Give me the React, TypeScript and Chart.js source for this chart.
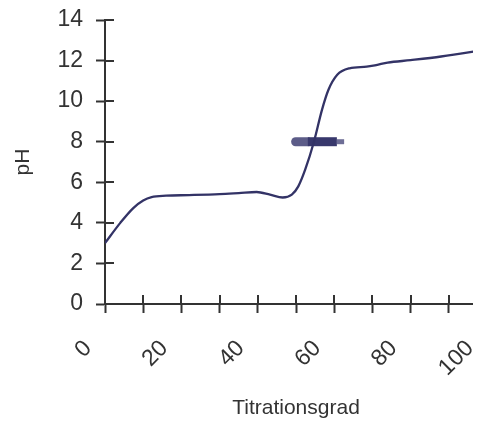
import React, { useEffect, useRef } from "react";
import { Chart, registerables } from "chart.js";

Chart.register(...registerables);

// Titration curve: degree of titration (%) vs pH
const titrationX = [0, 4, 7.4, 10, 12.2, 16, 22, 30, 35, 39.7, 43.2, 46.5, 48.9, 50.6, 52.4, 54.7, 56.8, 58.5, 60.8, 64, 68.5, 71, 74, 80, 88, 100];
const titrationPH = [3.0, 4.0, 4.73, 5.1, 5.27, 5.34, 5.37, 5.42, 5.47, 5.52, 5.39, 5.25, 5.39, 5.8, 6.62, 8.0, 9.57, 10.56, 11.3, 11.62, 11.7, 11.78, 11.9, 12.02, 12.2, 12.55];

// Indicator marker at pH 8 (three pieces)
const indicatorPH = 8;
const indicatorLightX = [49.9, 53.1];
const indicatorDarkX = [53.1, 60.7];
const indicatorTipX = [60.7, 62.6];

const xTickValues = [0, 10, 20, 30, 40, 50, 60, 70, 80, 90, 100];
const yTickValues = [0, 2, 4, 6, 8, 10, 12, 14];

const AXIS = "#333333";
const LINE = "#333366";
const FONT = "'Liberation Sans', Arial, Helvetica, sans-serif";

const innerTicks = {
  id: "innerTicks",
  afterDatasetsDraw(chart: any) {
    const { ctx, chartArea, scales } = chart;
    const x = scales.x;
    const y = scales.y;
    ctx.save();
    ctx.strokeStyle = AXIS;
    ctx.lineWidth = 2;
    ctx.beginPath();
    x.ticks.forEach((t: any) => {
      const px = Math.round(x.getPixelForValue(t.value));
      ctx.moveTo(px, Math.round(chartArea.bottom));
      ctx.lineTo(px, Math.round(chartArea.bottom) - 9);
    });
    y.ticks.forEach((t: any) => {
      const py = Math.round(y.getPixelForValue(t.value));
      ctx.moveTo(Math.round(chartArea.left), py);
      ctx.lineTo(Math.round(chartArea.left) + 9, py);
    });
    ctx.stroke();
    ctx.restore();
  },
};

export default function App() {
  const ref = useRef<HTMLCanvasElement | null>(null);

  useEffect(() => {
    if (!ref.current) return;
    document.body.style.overflow = "hidden";
    const curve = titrationX.map((x, i) => ({ x, y: titrationPH[i] }));
    const seg = (xs: number[]) => xs.map((x) => ({ x, y: indicatorPH }));

    const chart = new Chart(ref.current, {
      type: "line",
      data: {
        datasets: [
          {
            data: curve,
            borderColor: LINE,
            borderWidth: 2.3,
            pointRadius: 0,
            fill: false,
            cubicInterpolationMode: "monotone",
          } as any,
          {
            data: seg(indicatorDarkX),
            borderColor: "#38386c",
            borderWidth: 9,
            borderCapStyle: "butt",
            pointRadius: 0,
            fill: false,
          },
          {
            data: seg(indicatorTipX),
            borderColor: "#6e6e96",
            borderWidth: 5,
            borderCapStyle: "butt",
            pointRadius: 0,
            fill: false,
          },
          {
            data: seg(indicatorLightX),
            borderColor: "#5c5c88",
            borderWidth: 9,
            borderCapStyle: "round",
            pointRadius: 0,
            fill: false,
          },
        ],
      },
      options: {
        responsive: false,
        animation: false,
        events: [],
        layout: { padding: { top: 12, right: 41, left: 0, bottom: 0 } },
        plugins: { legend: { display: false }, tooltip: { enabled: false } },
        scales: {
          x: {
            type: "linear",
            min: 0,
            max: 100,
            afterFit: (s: any) => {
              s.height = 117;
              s.paddingLeft = 0;
              s.paddingRight = 0;
            },
            afterBuildTicks: (s: any) => {
              s.ticks = xTickValues.map((v) => ({ value: v }));
            },
            grid: {
              drawOnChartArea: false,
              drawTicks: true,
              tickLength: 9,
              tickWidth: 2,
              tickColor: AXIS,
            },
            border: { display: true, color: AXIS, width: 2 },
            ticks: {
              autoSkip: false,
              minRotation: 45,
              maxRotation: 45,
              labelOffset: -17,
              padding: 22,
              color: AXIS,
              font: { family: FONT, size: 23 },
              callback: (v: any) => (Number(v) % 20 === 0 ? String(v) : ""),
            },
            title: {
              display: true,
              text: "Titrationsgrad",
              color: AXIS,
              font: { family: FONT, size: 21 },
              padding: { top: 0, bottom: 0 },
            },
          },
          y: {
            type: "linear",
            min: 0,
            max: 14,
            afterFit: (s: any) => {
              s.width = 97;
              s.paddingTop = 0;
              s.paddingBottom = 0;
            },
            afterBuildTicks: (s: any) => {
              s.ticks = yTickValues.map((v) => ({ value: v }));
            },
            grid: {
              drawOnChartArea: false,
              drawTicks: true,
              tickLength: 9,
              tickWidth: 2,
              tickColor: AXIS,
            },
            border: { display: true, color: AXIS, width: 2 },
            ticks: {
              padding: 13,
              color: AXIS,
              font: { family: FONT, size: 23 },
            },
            title: {
              display: true,
              text: "pH",
              color: AXIS,
              font: { family: FONT, size: 21 },
              padding: { top: 3, bottom: 0 },
            },
          },
        },
      },
      plugins: [innerTicks],
    });
    return () => chart.destroy();
  }, []);

  return (
    <div style={{ width: 473, height: 413, overflow: "hidden" }}>
      <canvas ref={ref} width={520} height={413} style={{ display: "block" }} />
    </div>
  );
}
